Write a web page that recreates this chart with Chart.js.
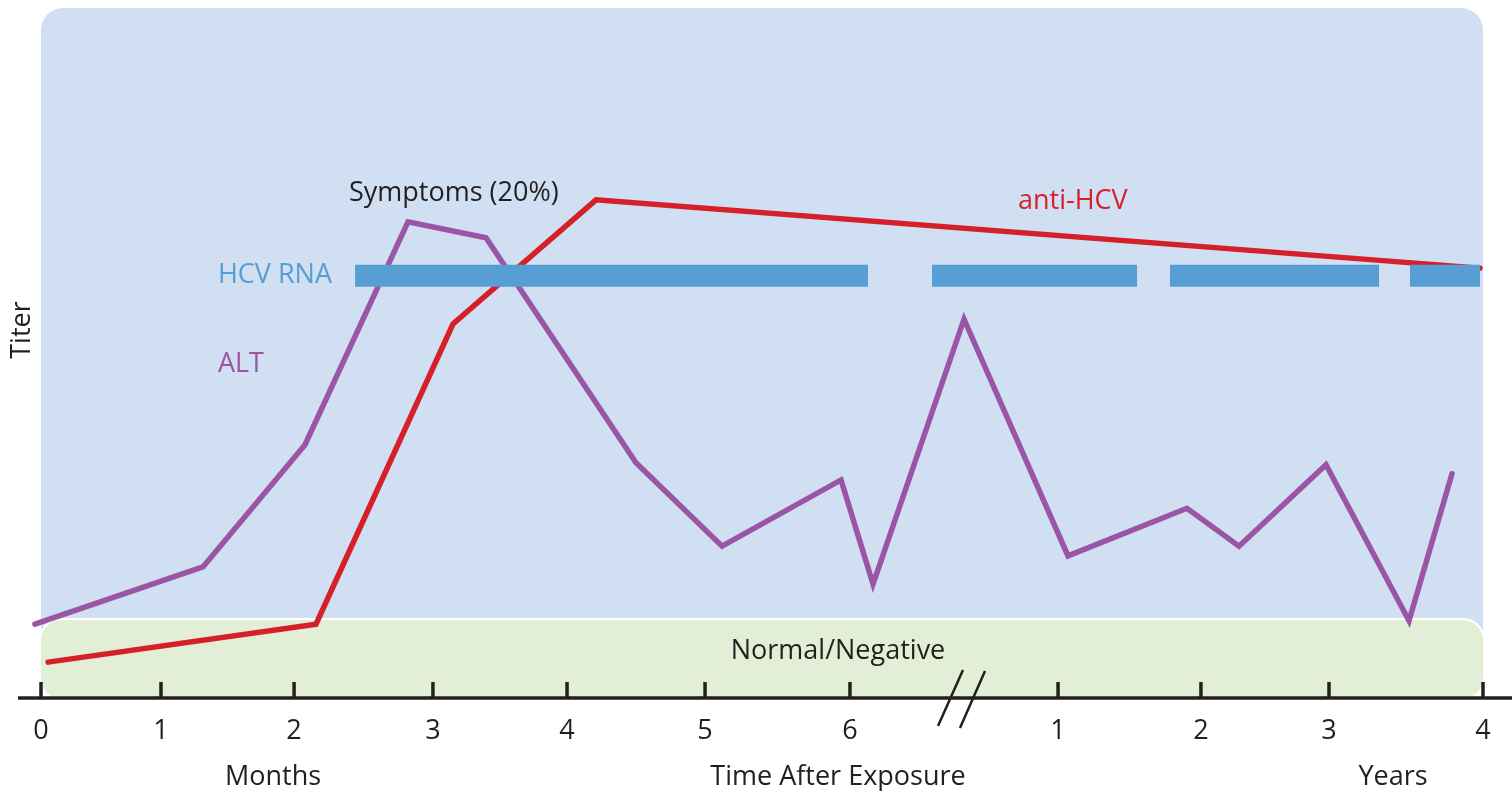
<!DOCTYPE html>
<html>
<head>
<meta charset="utf-8">
<title>HCV course</title>
<script src="https://cdn.jsdelivr.net/npm/chart.js@4.4.0/dist/chart.umd.min.js"></script>
<style>
  html, body { margin: 0; padding: 0; background: #fff; }
  #wrap { width: 1512px; height: 791px; }
</style>
</head>
<body>
<div id="wrap"><canvas id="chart"></canvas></div>
<script>
// x is in percent of the time axis (0 = exposure, 100 = 4 years), y is titer 0..100
var tickPos = [0, 8.32, 17.55, 27.18, 36.48, 46.05, 56.10, 70.53, 80.44, 89.32, 100];
var tickLabels = ['0', '1', '2', '3', '4', '5', '6', '1', '2', '3', '4'];
var breakAt = 63.8;

var altX = [-0.42, 11.23, 18.31, 25.45, 30.86, 41.26, 47.23, 55.48, 57.70, 64.01, 71.22, 79.47, 83.08, 89.11, 94.87, 97.85];
var altY = [10.7, 19.0, 36.7, 69.0, 66.7, 34.1, 22.0, 31.6, 16.5, 54.9, 20.6, 27.5, 22.0, 33.8, 11.2, 32.5];

var antiX = [0.49, 19.07, 28.57, 38.49, 99.79];
var antiY = [5.2, 10.7, 54.2, 72.2, 62.3];

var rnaStart = [21.78, 61.79, 78.29, 94.94];
var rnaEnd = [57.35, 76.01, 92.79, 99.79];
var rnaLevel = 61.2;

var normalTop = 11.3;

var ink = '#231f20';
var font = '"Open Sans", "Noto Sans", sans-serif';

function pts(xs, ys) {
  var out = [];
  for (var i = 0; i < xs.length; i++) out.push({x: xs[i], y: ys[i]});
  return out;
}

var rnaPts = [];
for (var i = 0; i < rnaStart.length; i++) {
  if (i > 0) rnaPts.push({x: (rnaEnd[i - 1] + rnaStart[i]) / 2, y: null});
  rnaPts.push({x: rnaStart[i], y: rnaLevel});
  rnaPts.push({x: rnaEnd[i], y: rnaLevel});
}

function roundRect(ctx, x, y, w, h, r) {
  ctx.beginPath();
  ctx.moveTo(x + r, y);
  ctx.lineTo(x + w - r, y);
  ctx.arcTo(x + w, y, x + w, y + r, r);
  ctx.lineTo(x + w, y + h - r);
  ctx.arcTo(x + w, y + h, x + w - r, y + h, r);
  ctx.lineTo(x + r, y + h);
  ctx.arcTo(x, y + h, x, y + h - r, r);
  ctx.lineTo(x, y + r);
  ctx.arcTo(x, y, x + r, y, r);
  ctx.closePath();
}

var backdrop = {
  id: 'backdrop',
  beforeDatasetsDraw: function(chart) {
    var ctx = chart.ctx, xs = chart.scales.x, ys = chart.scales.y;
    var l = xs.getPixelForValue(0), r = xs.getPixelForValue(100);
    var t = ys.getPixelForValue(100), b = ys.getPixelForValue(0);
    ctx.save();
    roundRect(ctx, l, t, r - l, b - t, 22);
    ctx.fillStyle = '#d0dff1';
    ctx.fill();
    var gt = ys.getPixelForValue(normalTop);
    roundRect(ctx, l, gt, r - l, b - gt, 20);
    ctx.lineWidth = 4;
    ctx.strokeStyle = '#ffffff';
    ctx.stroke();
    ctx.fillStyle = '#e2efd6';
    ctx.fill();
    ctx.restore();
  },
  afterDatasetsDraw: function(chart) {
    var ctx = chart.ctx, xs = chart.scales.x, ys = chart.scales.y;
    var y0 = ys.getPixelForValue(0);
    ctx.save();
    // axis line + ticks
    ctx.strokeStyle = ink;
    ctx.lineWidth = 3.5;
    ctx.beginPath();
    ctx.moveTo(18, y0);
    ctx.lineTo(1512, y0);
    ctx.stroke();
    tickPos.forEach(function(v) {
      var px = xs.getPixelForValue(v);
      ctx.beginPath();
      ctx.moveTo(px, y0);
      ctx.lineTo(px, y0 - 16);
      ctx.stroke();
    });
    // axis break
    var bx = xs.getPixelForValue(breakAt);
    ctx.lineWidth = 2.5;
    ctx.beginPath();
    ctx.moveTo(bx - 23, y0 + 28); ctx.lineTo(bx + 2, y0 - 28);
    ctx.moveTo(bx - 1, y0 + 30); ctx.lineTo(bx + 24, y0 - 27);
    ctx.stroke();

    ctx.fillStyle = ink;
    ctx.font = '27px ' + font;
    ctx.textAlign = 'center';
    ctx.textBaseline = 'middle';
    tickPos.forEach(function(v, i) {
      ctx.fillText(tickLabels[i], xs.getPixelForValue(v), y0 + 33);
    });
    ctx.fillText('Months', 273, y0 + 79);
    ctx.fillText('Time After Exposure', 838, y0 + 79);
    ctx.fillText('Years', 1393, y0 + 79);
    ctx.fillText('Normal/Negative', xs.getPixelForValue(55.27), ys.getPixelForValue(6.7));

    ctx.textAlign = 'left';
    ctx.fillText('Symptoms (20%)', xs.getPixelForValue(21.36), ys.getPixelForValue(73.2));
    ctx.fillStyle = '#d52029';
    ctx.fillText('anti-HCV', xs.getPixelForValue(67.75), ys.getPixelForValue(72.0));
    ctx.fillStyle = '#569ed3';
    ctx.fillText('HCV RNA', xs.getPixelForValue(12.27), ys.getPixelForValue(61.3));
    ctx.fillStyle = '#9a55a5';
    ctx.fillText('ALT', xs.getPixelForValue(12.27), ys.getPixelForValue(48.3));

    ctx.fillStyle = ink;
    ctx.translate(22, 330);
    ctx.rotate(-Math.PI / 2);
    ctx.textAlign = 'center';
    ctx.fillText('Titer', 0, 0);
    ctx.restore();
  }
};

new Chart(document.getElementById('chart'), {
  type: 'line',
  data: {
    datasets: [
      {
        label: 'HCV RNA',
        data: rnaPts,
        borderColor: '#569ed3',
        borderWidth: 22,
        borderCapStyle: 'butt',
        pointRadius: 0,
        spanGaps: false,
        clip: false
      },
      {
        label: 'ALT',
        data: pts(altX, altY),
        borderColor: '#9a55a5',
        borderWidth: 5.5,
        borderJoinStyle: 'miter',
        borderCapStyle: 'round',
        pointRadius: 0,
        tension: 0,
        clip: false
      },
      {
        label: 'anti-HCV',
        data: pts(antiX, antiY),
        borderColor: '#d52029',
        borderWidth: 5.5,
        borderJoinStyle: 'miter',
        borderCapStyle: 'round',
        pointRadius: 0,
        tension: 0,
        clip: false
      }
    ]
  },
  options: {
    responsive: true,
    maintainAspectRatio: false,
    animation: false,
    layout: { padding: { left: 26.58, right: 29, top: 8, bottom: 93 } },
    plugins: { legend: { display: false }, tooltip: { enabled: false } },
    scales: {
      x: { type: 'linear', min: -1, max: 100, display: false },
      y: { min: 0, max: 100, display: false }
    }
  },
  plugins: [backdrop]
});
</script>
</body>
</html>
